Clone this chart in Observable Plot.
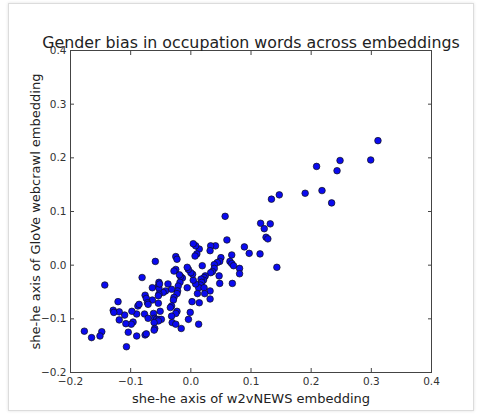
<!DOCTYPE html>
<html>
<head>
<meta charset="utf-8">
<script src="https://cdn.jsdelivr.net/npm/d3@7"></script>
<script src="https://cdn.jsdelivr.net/npm/@observablehq/plot@0.6"></script>
<style>
  html, body { margin: 0; padding: 0; background: #fff; }
  #wrap { position: relative; width: 477px; height: 416px; overflow: hidden; }
  #border { position: absolute; left: 8px; top: 3px; width: 466px; height: 408px;
            border: 1px solid #dcdcdc; box-shadow: 0 0 3px rgba(0,0,0,0.12); box-sizing: border-box; }
  #chart { position: absolute; left: 0; top: 0; }
</style>
</head>
<body>
<div id="wrap"><div id="border"></div><div id="chart"></div></div>
<script>
const title = "Gender bias in occupation words across embeddings";
const xLabel = "she-he axis of w2vNEWS embedding";
const yLabel = "she-he axis of GloVe webcrawl embedding";
const xTicks = [-0.2, -0.1, 0.0, 0.1, 0.2, 0.3, 0.4];
const yTicks = [-0.2, -0.1, 0.0, 0.1, 0.2, 0.3, 0.4];

// w2vNEWS she-he projection (x)
const w2vNews = [
  0.311, 0.299, 0.248, 0.243, 0.209, 0.218, 0.234, 0.190, 0.147, 0.134,
  0.057, 0.116, 0.132, 0.122, 0.125, 0.128, 0.060, 0.089, 0.097, 0.115,
  0.143, 0.081, 0.081, 0.068, 0.065, 0.068, 0.071, 0.069, 0.048, 0.047,
  0.050, 0.048, 0.044, 0.039, 0.039, 0.036, 0.033, 0.041, 0.033, 0.032,
  0.024, 0.022, 0.021, 0.019, 0.017, 0.018, 0.016, 0.013, 0.008, 0.022,
  0.032, 0.032, 0.023, 0.011, 0.014, 0.002, -0.001, -0.004, 0.013, 0.014,
  0.010, 0.007, 0.008, 0.004, -0.006, 0.004, 0.003, 0.000, -0.004, -0.006,
  -0.014, -0.017, -0.019, -0.018, -0.021, -0.022, -0.023, -0.025, -0.028, -0.025,
  -0.023, -0.032, -0.028, -0.029, -0.038, -0.042, -0.046, -0.053, -0.054, -0.053,
  -0.052, -0.064, -0.053, -0.054, -0.054, -0.059, -0.081, -0.064, -0.076, -0.074,
  -0.072, -0.071, -0.032, -0.034, -0.051, -0.023, -0.025, -0.062, -0.032, -0.060,
  -0.057, -0.053, -0.049, -0.054, -0.061, -0.031, -0.025, -0.016, -0.060, -0.061,
  -0.077, -0.071, -0.088, -0.086, -0.090, -0.098, -0.110, -0.096, -0.099, -0.108,
  -0.119, -0.119, -0.121, -0.129, -0.128, -0.143, -0.104, -0.090, -0.076, -0.074,
  -0.107, -0.148, -0.151, -0.165, -0.177
];
// GloVe webcrawl she-he projection (y)
const gloveWeb = [
  0.232, 0.196, 0.195, 0.176, 0.184, 0.139, 0.116, 0.134, 0.131, 0.123,
  0.091, 0.078, 0.077, 0.068, 0.052, 0.049, 0.047, 0.034, 0.022, 0.021,
  -0.004, -0.006, -0.016, 0.019, 0.007, 0.003, -0.001, -0.034, -0.034, -0.020,
  0.014, 0.007, 0.005, 0.001, -0.006, -0.012, -0.014, 0.036, 0.036, 0.027,
  -0.020, -0.023, -0.028, -0.001, -0.026, -0.032, -0.037, -0.042, -0.035, -0.042,
  -0.048, -0.063, -0.053, -0.053, -0.070, -0.068, -0.088, -0.101, -0.110, 0.030,
  0.021, 0.017, 0.036, 0.040, -0.042, -0.028, -0.017, -0.014, -0.008, -0.004,
  -0.024, -0.021, -0.018, -0.032, -0.039, -0.048, -0.053, -0.008, -0.011, 0.016,
  0.011, -0.045, -0.060, -0.065, -0.035, -0.048, -0.051, -0.032, -0.039, -0.043,
  -0.035, -0.042, -0.054, -0.057, -0.071, 0.007, -0.023, -0.065, -0.056, -0.062,
  -0.070, -0.073, -0.076, -0.079, -0.086, -0.086, -0.090, -0.090, -0.095, -0.099,
  -0.101, -0.101, -0.101, -0.104, -0.107, -0.107, -0.110, -0.118, -0.118, -0.121,
  -0.091, -0.099, -0.076, -0.073, -0.091, -0.086, -0.093, -0.106, -0.110, -0.109,
  -0.102, -0.087, -0.068, -0.084, -0.088, -0.037, -0.125, -0.132, -0.130, -0.128,
  -0.152, -0.124, -0.132, -0.135, -0.123
];

const points = w2vNews.map((x, i) => ({x, y: gloveWeb[i]}));
const fmt = d3.format(".1f");
const font = "DejaVu Sans, sans-serif";

const chart = Plot.plot({
  width: 477,
  height: 416,
  marginLeft: 70,
  marginRight: 46,
  marginTop: 50,
  marginBottom: 44,
  style: {fontFamily: font, background: "transparent", overflow: "visible"},
  x: {domain: [-0.2, 0.4], ticks: xTicks, tickFormat: fmt},
  y: {domain: [-0.2, 0.4], ticks: yTicks, tickFormat: fmt},
  marks: [
    Plot.frame({stroke: "#444", strokeWidth: 1}),
    // inward ticks on all four sides
    Plot.axisX(xTicks, {anchor: "bottom", tickSize: -4, tickFormat: () => "", stroke: "#444", label: null}),
    Plot.axisX(xTicks, {anchor: "top", tickSize: -4, tickFormat: () => "", stroke: "#444", label: null}),
    Plot.axisY(yTicks, {anchor: "left", tickSize: -4, tickFormat: () => "", stroke: "#444", label: null}),
    Plot.axisY(yTicks, {anchor: "right", tickSize: -4, tickFormat: () => "", stroke: "#444", label: null}),
    // tick labels
    Plot.axisX(xTicks, {anchor: "bottom", tickSize: 0, tickPadding: 5, tickFormat: fmt, fontSize: 10.5, fill: "#333",
      label: xLabel, labelAnchor: "center", labelOffset: 30, labelArrow: "none"}),
    Plot.axisY(yTicks, {anchor: "left", tickSize: 0, tickPadding: 4, tickFormat: fmt, fontSize: 10.5, fill: "#333",
      label: yLabel, labelAnchor: "center", labelOffset: 40, labelArrow: "none"}),
    Plot.dot(points, {x: "x", y: "y", r: 3.3, fill: "#0a0af0", stroke: "#111", strokeWidth: 0.7}),
    Plot.text([title], {frameAnchor: "top", dy: -3, fontSize: 15.8, fill: "#222", text: d => d, lineAnchor: "bottom"})
  ]
});
document.getElementById("chart").appendChild(chart);

// axis label font sizes
chart.querySelectorAll("[aria-label$='axis label'] text, [aria-label$='axis label']").forEach(el => {
  el.setAttribute("font-size", 13);
  el.style.fontSize = "13px";
  el.setAttribute("fill", "#222");
});
</script>
</body>
</html>
